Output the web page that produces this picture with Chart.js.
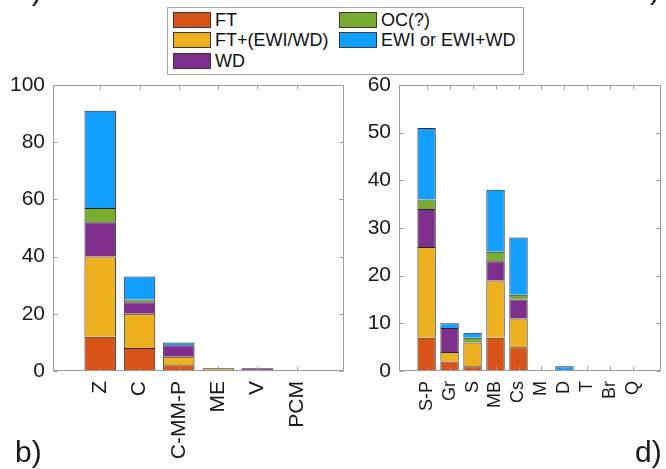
<!DOCTYPE html>
<html>
<head>
<meta charset="utf-8">
<script src="https://cdn.jsdelivr.net/npm/chart.js@4/dist/chart.umd.min.js"></script>
<style>
  html, body { margin: 0; padding: 0; background: #fff; }
  body { width: 666px; height: 469px; position: relative; overflow: hidden;
         font-family: "Liberation Sans", Arial, sans-serif; }
  #left  { position: absolute; left: 0; top: 0; }
  #right { position: absolute; left: 346px; top: 0; }
  #legend { position: absolute; left: 167px; top: 7px; width: 355px; height: 66px;
            border: 1px solid #a3a3a3; background: #fff; }
  .item { position: absolute; height: 16px; display: flex; align-items: center;
          font-size: 18px; color: #111; white-space: nowrap; }
  .sw { width: 36px; height: 14px; border: 1px solid #3a3a3a; margin-right: 4px; flex: none; }
</style>
</head>
<body>
<canvas id="left" width="346" height="469"></canvas>
<canvas id="right" width="320" height="469"></canvas>
<div id="legend"></div>
<script>
// Stack order, bottom to top
const seriesNames  = ['FT', 'FT+(EWI/WD)', 'WD', 'OC(?)', 'EWI or EWI+WD'];
const seriesColors = ['#D95319', '#EDB120', '#7E2F8E', '#77AC30', '#139FFF'];

// Panel b)
const groupsB = ['Z', 'C', 'C-MM-P', 'ME', 'V', 'PCM'];
const ftB     = [12,  8, 2, 0, 0, 0];
const ftMixB  = [28, 12, 3, 1, 0, 0];
const wdB     = [12,  4, 4, 0, 1, 0];
const ocB     = [ 5,  1, 0, 0, 0, 0];
const ewiB    = [34,  8, 1, 0, 0, 0];
const yTicksB = [0, 20, 40, 60, 80, 100];

// Panel d)
const groupsD = ['S-P', 'Gr', 'S', 'MB', 'Cs', 'M', 'D', 'T', 'Br', 'Q'];
const ftD     = [ 7, 2, 1,  7,  5, 0, 0, 0, 0, 0];
const ftMixD  = [19, 2, 5, 12,  6, 0, 0, 0, 0, 0];
const wdD     = [ 8, 5, 0,  4,  4, 0, 0, 0, 0, 0];
const ocD     = [ 2, 0, 1,  2,  1, 0, 0, 0, 0, 0];
const ewiD    = [15, 1, 1, 13, 12, 0, 1, 0, 0, 0];
const yTicksD = [0, 10, 20, 30, 40, 50, 60];

const FONT = '"Liberation Sans", Arial, sans-serif';
const TEXT = '#1a1a1a';
const AXIS = '#9c9c9c';

// Legend, filled column by column (3 rows)
const legendPos = [[5, 4], [5, 24], [5, 45], [171, 4], [171, 24]];
const legend = document.getElementById('legend');
seriesNames.forEach((name, k) => {
  const it = document.createElement('div');
  it.className = 'item';
  it.style.left = legendPos[k][0] + 'px';
  it.style.top = legendPos[k][1] + 'px';
  const sw = document.createElement('span');
  sw.className = 'sw';
  sw.style.background = seriesColors[k];
  const tx = document.createElement('span');
  tx.textContent = name;
  it.appendChild(sw); it.appendChild(tx);
  legend.appendChild(it);
});

// Axes box with inward tick marks, plus panel tags
const boxPlugin = {
  id: 'box',
  afterDatasetsDraw(chart, args, opts) {
    const { ctx, chartArea: a, scales: { x, y } } = chart;
    const L = Math.round(a.left) + 0.5, R = Math.round(a.right) - 0.5;
    const T = Math.round(a.top) + 0.5, B = Math.round(a.bottom) - 0.5;
    const len = 4;
    ctx.save();
    ctx.strokeStyle = AXIS;
    ctx.lineWidth = 1;
    ctx.beginPath();
    ctx.rect(L, T, R - L, B - T);
    x.ticks.forEach(t => {
      const px = Math.round(x.getPixelForValue(t.value)) + 0.5;
      ctx.moveTo(px, T); ctx.lineTo(px, T + len);
      ctx.moveTo(px, B); ctx.lineTo(px, B - len);
    });
    y.ticks.forEach(t => {
      const py = Math.round(y.getPixelForValue(t.value)) + 0.5;
      ctx.moveTo(L, py); ctx.lineTo(L + len, py);
      ctx.moveTo(R, py); ctx.lineTo(R - len, py);
    });
    ctx.stroke();
    ctx.fillStyle = TEXT;
    ctx.font = '30px ' + FONT;
    ctx.textBaseline = 'alphabetic';
    ctx.textAlign = 'left';
    (opts.tags || []).forEach(t => ctx.fillText(t.text, t.x, t.y));
    ctx.restore();
  }
};

function panel(id, groups, series, yTicks, xFont, tags, padRight) {
  const datasets = series.map((vals, k) => ({
    label: seriesNames[k],
    data: vals.map((v, i) => ({ x: i, y: v })),
    backgroundColor: seriesColors[k],
    borderColor: '#262626',
    borderWidth: 1,
    barPercentage: 0.8,
    categoryPercentage: 1.0
  }));
  return new Chart(document.getElementById(id), {
    type: 'bar',
    data: { datasets },
    plugins: [boxPlugin],
    options: {
      responsive: false,
      animation: false,
      events: [],
      layout: { padding: { top: 85, right: padRight, left: 0, bottom: 0 } },
      plugins: {
        legend: { display: false },
        tooltip: { enabled: false },
        box: { tags }
      },
      scales: {
        x: {
          type: 'linear',
          offset: false,
          stacked: true,
          min: -1.2,
          max: groups.length - 1 + 1.2,
          afterBuildTicks: s => { s.ticks = groups.map((g, i) => ({ value: i })); },
          afterFit: s => { s.height = 98; },
          ticks: {
            autoSkip: false, minRotation: 90, maxRotation: 90, padding: 10,
            color: TEXT, font: { size: xFont, family: FONT },
            callback: v => groups[v]
          },
          grid: { display: false, drawTicks: false, offset: false },
          border: { display: false }
        },
        y: {
          stacked: true,
          min: yTicks[0],
          max: yTicks[yTicks.length - 1],
          afterBuildTicks: s => { s.ticks = yTicks.map(v => ({ value: v })); },
          afterFit: s => { s.width = 53; },
          ticks: { padding: 8, color: TEXT, font: { size: 21, family: FONT } },
          grid: { display: false, drawTicks: false },
          border: { display: false }
        }
      }
    }
  });
}

panel('left', groupsB, [ftB, ftMixB, wdB, ocB, ewiB], yTicksB, 21,
      [{ text: 'a)', x: 15, y: 0 }, { text: 'b)', x: 15, y: 462 }], 2);
panel('right', groupsD, [ftD, ftMixD, wdD, ocD, ewiD], yTicksD, 18,
      [{ text: 'c)', x: 289, y: -1 }, { text: 'd)', x: 289, y: 462 }], 5);
</script>
</body>
</html>
